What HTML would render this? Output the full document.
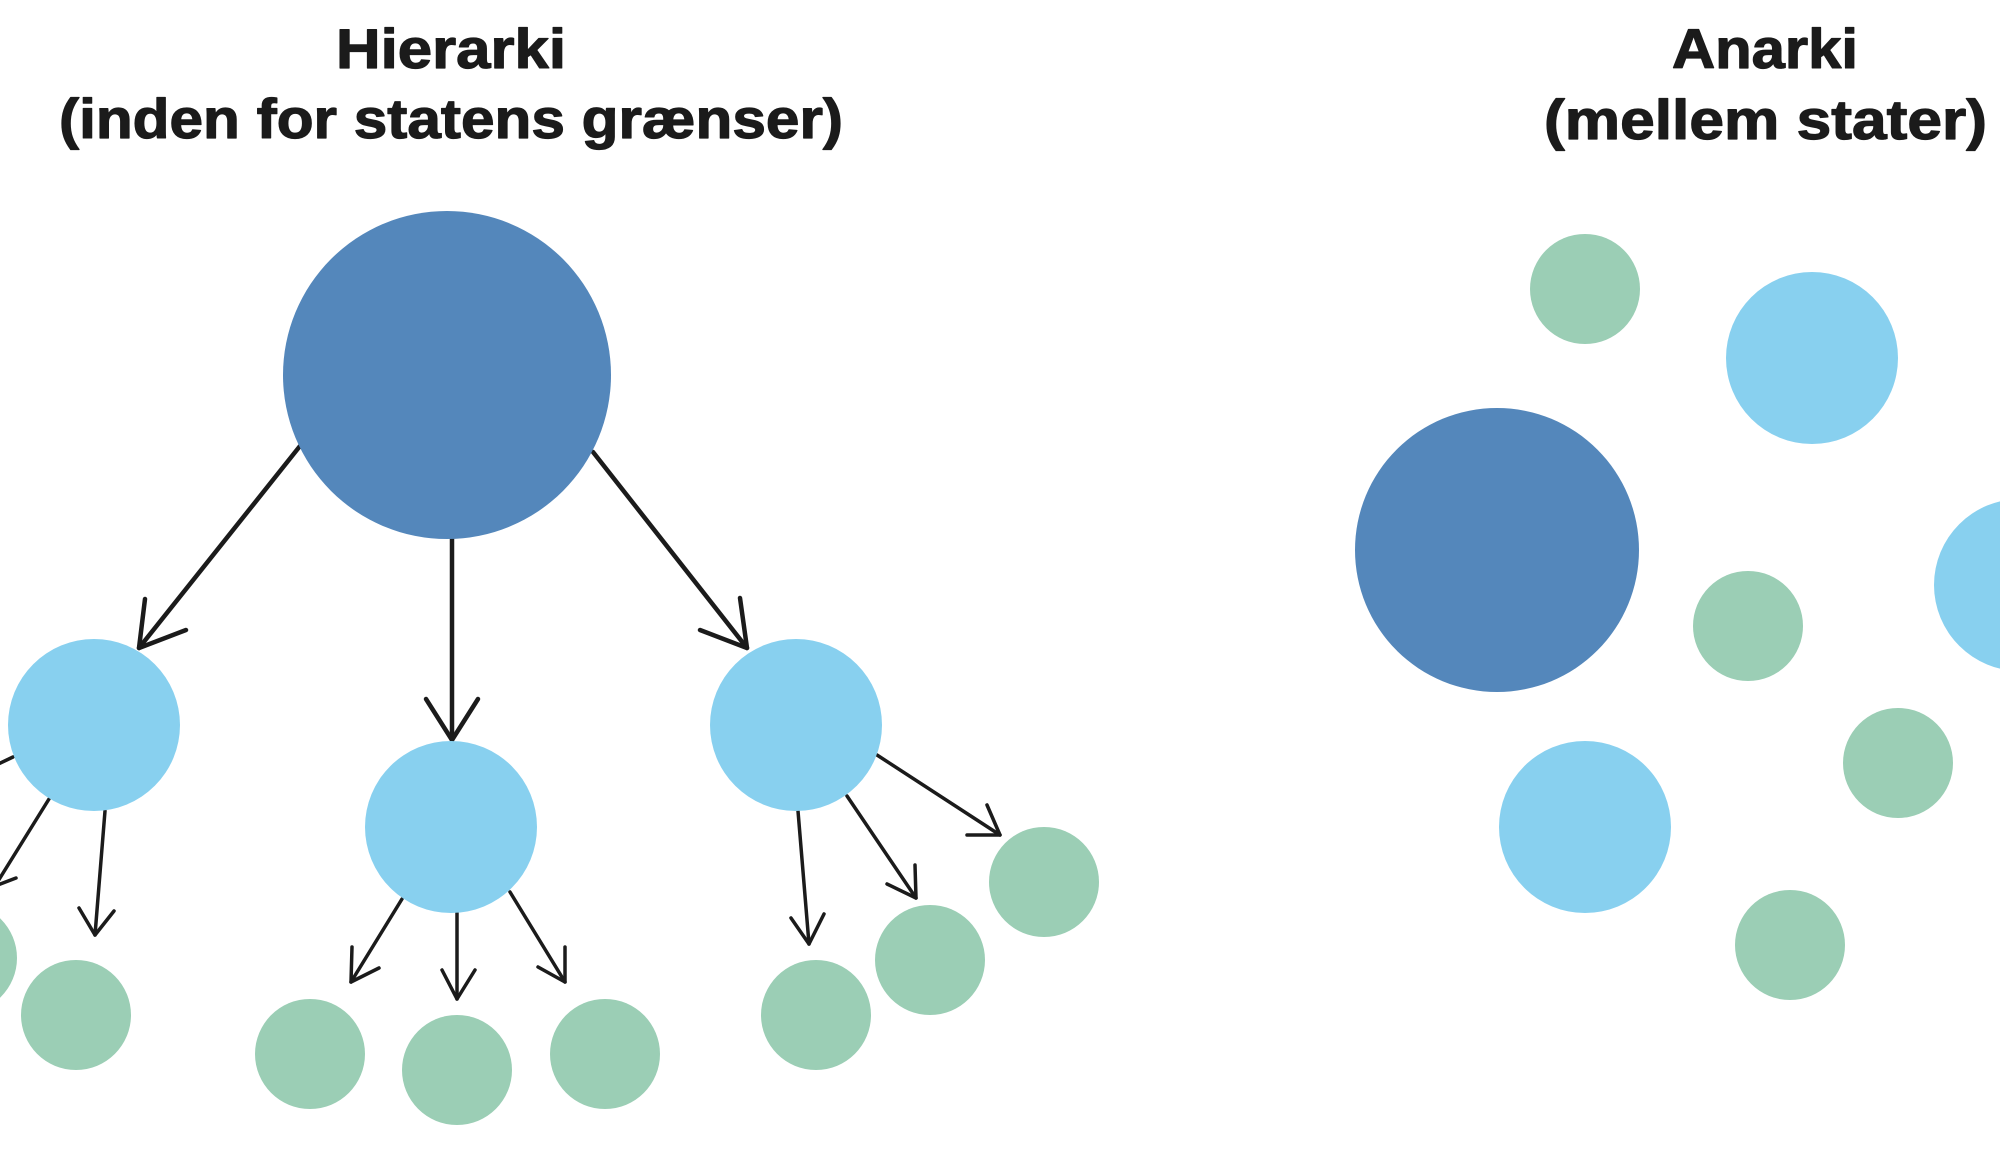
<!DOCTYPE html>
<html>
<head>
<meta charset="utf-8">
<style>
  html, body { margin: 0; padding: 0; background: #ffffff; }
  body { width: 2000px; height: 1165px; overflow: hidden; }
  svg { display: block; }
  text { font-family: "Liberation Sans", "DejaVu Sans", sans-serif; font-weight: bold; fill: #1b1b1b; stroke: #1b1b1b; stroke-width: 1.2; stroke-linejoin: round; }
</style>
</head>
<body>
<svg width="2000" height="1165" viewBox="0 0 2000 1165" xmlns="http://www.w3.org/2000/svg">
  <rect x="0" y="0" width="2000" height="1165" fill="#ffffff"/>

  <!-- Titles -->
  <text x="336" y="68" font-size="56" textLength="230" lengthAdjust="spacingAndGlyphs">Hierarki</text>
  <text x="59" y="138" font-size="56" textLength="784" lengthAdjust="spacingAndGlyphs">(inden for statens grænser)</text>
  <text x="1672" y="68" font-size="56" textLength="186" lengthAdjust="spacingAndGlyphs">Anarki</text>
  <text x="1544" y="139" font-size="56" textLength="443" lengthAdjust="spacingAndGlyphs">(mellem stater)</text>

  <!-- Hierarchy: arrows -->
  <g stroke="#1b1b1b" fill="none" stroke-linecap="round" stroke-linejoin="round">
    <g stroke-width="4.5">
      <line x1="300" y1="446" x2="139" y2="648"/>
      <polyline points="145,599 139,648 186,630"/>
      <line x1="452" y1="535" x2="452" y2="740"/>
      <polyline points="426,699 452,740 478,699"/>
      <line x1="593" y1="452" x2="747" y2="648"/>
      <polyline points="740,598 747,648 700,630"/>
    </g>
    <g stroke-width="3.5">
      <!-- left circle -->
      <line x1="13" y1="757" x2="-10" y2="768"/>
      <line x1="49" y1="799" x2="-5" y2="886"/>
      <polyline points="16,878 -5,886 -7,864"/>
      <line x1="105" y1="811" x2="95" y2="935"/>
      <polyline points="79,908 95,935 114,911"/>
      <!-- middle circle -->
      <line x1="402" y1="899" x2="351" y2="982"/>
      <polyline points="352,947 351,982 379,968"/>
      <line x1="457" y1="913" x2="457" y2="999"/>
      <polyline points="442,970 457,999 475,970"/>
      <line x1="510" y1="892" x2="565" y2="982"/>
      <polyline points="565,947 565,982 538,967"/>
      <!-- right circle -->
      <line x1="798" y1="811" x2="809" y2="944"/>
      <polyline points="791,918 809,944 824,914"/>
      <line x1="847" y1="796" x2="916" y2="898"/>
      <polyline points="915,865 916,898 887,884"/>
      <line x1="877" y1="755" x2="1000" y2="835"/>
      <polyline points="987,805 1000,835 967,835"/>
    </g>
  </g>

  <!-- Hierarchy: circles -->
  <circle cx="447" cy="375" r="164" fill="#5487BB"/>
  <circle cx="94" cy="725" r="86" fill="#88D0EF"/>
  <circle cx="451" cy="827" r="86" fill="#88D0EF"/>
  <circle cx="796" cy="725" r="86" fill="#88D0EF"/>

  <circle cx="-38" cy="958" r="55" fill="#9BCEB5"/>
  <circle cx="76" cy="1015" r="55" fill="#9BCEB5"/>
  <circle cx="310" cy="1054" r="55" fill="#9BCEB5"/>
  <circle cx="457" cy="1070" r="55" fill="#9BCEB5"/>
  <circle cx="605" cy="1054" r="55" fill="#9BCEB5"/>
  <circle cx="816" cy="1015" r="55" fill="#9BCEB5"/>
  <circle cx="930" cy="960" r="55" fill="#9BCEB5"/>
  <circle cx="1044" cy="882" r="55" fill="#9BCEB5"/>

  <!-- Anarchy -->
  <circle cx="1585" cy="289" r="55" fill="#9BCEB5"/>
  <circle cx="1812" cy="358" r="86" fill="#88D0EF"/>
  <circle cx="1497" cy="550" r="142" fill="#5487BB"/>
  <circle cx="1748" cy="626" r="55" fill="#9BCEB5"/>
  <circle cx="2020" cy="585" r="86" fill="#88D0EF"/>
  <circle cx="1898" cy="763" r="55" fill="#9BCEB5"/>
  <circle cx="1585" cy="827" r="86" fill="#88D0EF"/>
  <circle cx="1790" cy="945" r="55" fill="#9BCEB5"/>
</svg>
</body>
</html>
